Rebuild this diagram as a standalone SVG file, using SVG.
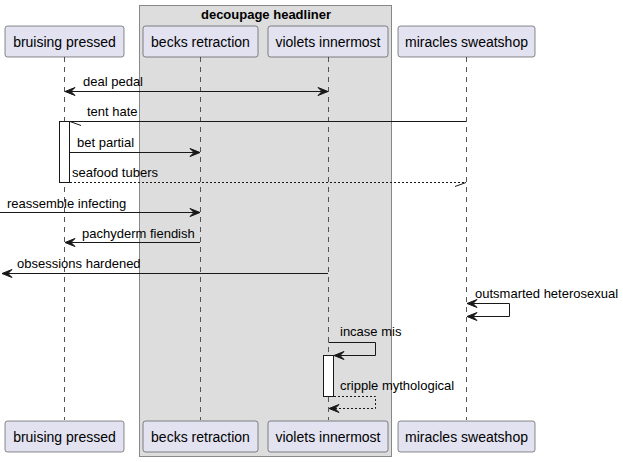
<svg xmlns="http://www.w3.org/2000/svg" width="623" height="462" viewBox="0 0 623 462">
<style>
text{font-family:"Liberation Sans",Arial,sans-serif;fill:#000}
.pt{font-size:14px;text-anchor:middle}
.msg{font-size:13px}
.ttl{font-size:13px;font-weight:bold;text-anchor:middle}
.part{fill:#E2E2F0;stroke:#181818;stroke-width:0.5}
.life{stroke:#555;stroke-width:1;stroke-dasharray:5,5;fill:none}
.ln{stroke:#181818;stroke-width:1;fill:none}
.dash{stroke:#181818;stroke-width:1;fill:none;stroke-dasharray:2,2}
.ah{fill:#181818;stroke:#181818;stroke-width:1}
.act{fill:#fff;stroke:#181818;stroke-width:1}
</style>
<rect width="623" height="462" fill="#fff"/>
<g id="box-decoupage-headliner">
<rect x="139.5" y="5.5" width="252" height="451" fill="#DDDDDD" stroke="#888" stroke-width="1"/>
<text class="ttl" x="266" y="19">decoupage headliner</text>
</g>
<g id="lifelines">
<line class="life" x1="64.5" y1="57" x2="64.5" y2="420"/>
<line class="life" x1="200.5" y1="57" x2="200.5" y2="420"/>
<line class="life" x1="328.5" y1="57" x2="328.5" y2="420"/>
<line class="life" x1="466.5" y1="57" x2="466.5" y2="420"/>
</g>
<g id="bruising-pressed">
<rect class="part" x="5" y="26" width="119" height="31" rx="2.5"/>
<text class="pt" x="64.5" y="47">bruising pressed</text>
<rect class="part" x="5" y="421" width="119" height="31" rx="2.5"/>
<text class="pt" x="64.5" y="442">bruising pressed</text>
</g>
<g id="becks-retraction">
<rect class="part" x="143" y="26" width="115" height="31" rx="2.5"/>
<text class="pt" x="200.5" y="47">becks retraction</text>
<rect class="part" x="143" y="421" width="115" height="31" rx="2.5"/>
<text class="pt" x="200.5" y="442">becks retraction</text>
</g>
<g id="violets-innermost">
<rect class="part" x="268" y="26" width="120" height="31" rx="2.5"/>
<text class="pt" x="328" y="47">violets innermost</text>
<rect class="part" x="268" y="421" width="120" height="31" rx="2.5"/>
<text class="pt" x="328" y="442">violets innermost</text>
</g>
<g id="miracles-sweatshop">
<rect class="part" x="398" y="26" width="137" height="31" rx="2.5"/>
<text class="pt" x="466.5" y="47">miracles sweatshop</text>
<rect class="part" x="398" y="421" width="137" height="31" rx="2.5"/>
<text class="pt" x="466.5" y="442">miracles sweatshop</text>
</g>
<g id="activations">
<rect class="act" x="59.5" y="121.5" width="10" height="61"/>
<rect class="act" x="323.5" y="355.5" width="10" height="41"/>
</g>
<g id="connectors">
<!-- deal pedal -->
<line class="ln" x1="65" y1="91.5" x2="328" y2="91.5"/>
<path class="ah" d="M65,91.5 L75,87.5 L71,91.5 L75,95.5 Z"/>
<path class="ah" d="M328,91.5 L318,87.5 L322,91.5 L318,95.5 Z"/>
<text class="msg" x="83" y="86">deal pedal</text>
<!-- tent hate -->
<line class="ln" x1="466" y1="121.5" x2="70" y2="121.5"/>
<line class="ln" x1="70" y1="121.5" x2="81" y2="125.5"/>
<text class="msg" x="87" y="116">tent hate</text>
<!-- bet partial -->
<line class="ln" x1="70" y1="152.5" x2="200" y2="152.5"/>
<path class="ah" d="M200,152.5 L190,148.5 L194,152.5 L190,156.5 Z"/>
<text class="msg" x="77" y="147">bet partial</text>
<!-- seafood tubers -->
<line class="dash" x1="70" y1="182.5" x2="466" y2="182.5"/>
<line class="ln" x1="466" y1="182.5" x2="455" y2="186.5"/>
<text class="msg" x="72" y="177">seafood tubers</text>
<!-- reassemble infecting -->
<line class="ln" x1="0" y1="212.5" x2="200" y2="212.5"/>
<path class="ah" d="M200,212.5 L190,208.5 L194,212.5 L190,216.5 Z"/>
<text class="msg" x="7" y="208">reassemble infecting</text>
<!-- pachyderm fiendish -->
<line class="ln" x1="200" y1="242.5" x2="65" y2="242.5"/>
<path class="ah" d="M65,242.5 L75,238.5 L71,242.5 L75,246.5 Z"/>
<text class="msg" x="82" y="238">pachyderm fiendish</text>
<!-- obsessions hardened -->
<line class="ln" x1="328" y1="273.5" x2="2" y2="273.5"/>
<path class="ah" d="M2,273.5 L12,269.5 L8,273.5 L12,277.5 Z"/>
<text class="msg" x="17" y="268">obsessions hardened</text>
<!-- outsmarted heterosexual -->
<path class="ln" d="M467,303.5 H509.5 V316.5 H467"/>
<path class="ah" d="M467,303.5 L477,299.5 L473,303.5 L477,307.5 Z"/>
<path class="ah" d="M467,316.5 L477,312.5 L473,316.5 L477,320.5 Z"/>
<text class="msg" x="475" y="298">outsmarted heterosexual</text>
<!-- incase mis -->
<path class="ln" d="M328.5,342.5 H375.5 V355.5 H334"/>
<path class="ah" d="M334,355.5 L344,351.5 L340,355.5 L344,359.5 Z"/>
<text class="msg" x="340" y="336">incase mis</text>
<!-- cripple mythological -->
<path class="dash" d="M334,396.5 H375.5 V408.5 H329"/>
<path class="ah" d="M329,408.5 L339,404.5 L335,408.5 L339,412.5 Z"/>
<text class="msg" x="340" y="390">cripple mythological</text>
</g>
</svg>
